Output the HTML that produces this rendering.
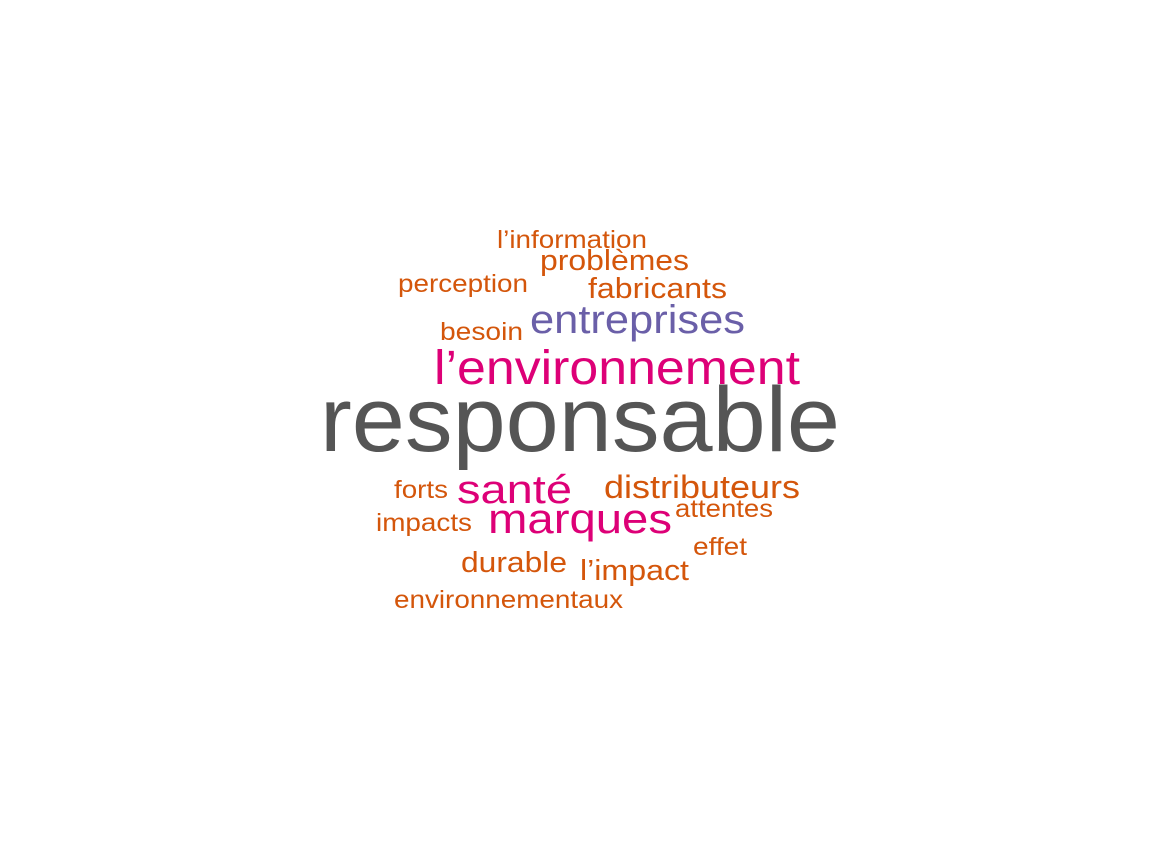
<!DOCTYPE html>
<html><head><meta charset="utf-8"><style>
html,body{margin:0;padding:0;background:#fff;}
svg text{font-family:"Liberation Sans",sans-serif;}
</style></head><body>
<svg id="cloud" width="1162" height="854" viewBox="0 0 1162 854" xmlns="http://www.w3.org/2000/svg"></svg>
<script>
const words = ["responsable","l’environnement","entreprises","santé","marques","distributeurs","fabricants","problèmes","l’information","perception","besoin","forts","impacts","attentes","effet","durable","l’impact","environnementaux"];
const freqs = [10,5,4,4,4,3,3,3,2,2,2,2,2,2,2,2,2,2];
const colors = ["#555555","#dd0077","#6a5fa8","#dd0077","#dd0077","#d4560b","#d4560b","#d4560b","#d4560b","#d4560b","#d4560b","#d4560b","#d4560b","#d4560b","#d4560b","#d4560b","#d4560b","#d4560b"];
// layout (left x, baseline y, rendered width, font size)
const layoutX = [320,434,530,457,488,604,588,540,497,398,440,394,376,675,693,461,580,394];
const layoutY = [451,384,333,503,533,498,298,270,248,292,340,498,531,517,555,572,580,608];
const layoutW = [520,366,215,115,184,196,139,149,150,130,83,54,96,98,54,106,109,229];
const layoutS = [92,48,40,40,42,32,29,29,25,25,25,25,25,25,25,29,29,25];
const svg = document.getElementById('cloud');
const NS = "http://www.w3.org/2000/svg";
for (let i = 0; i < words.length; i++) {
  const t = document.createElementNS(NS, 'text');
  t.setAttribute('x', layoutX[i]);
  t.setAttribute('y', layoutY[i]);
  t.setAttribute('font-size', layoutS[i]);
  t.setAttribute('fill', colors[i]);
  t.setAttribute('textLength', layoutW[i]);
  t.setAttribute('lengthAdjust', 'spacingAndGlyphs');
  t.textContent = words[i];
  
  
  svg.appendChild(t);
}
</script>
</body></html>
